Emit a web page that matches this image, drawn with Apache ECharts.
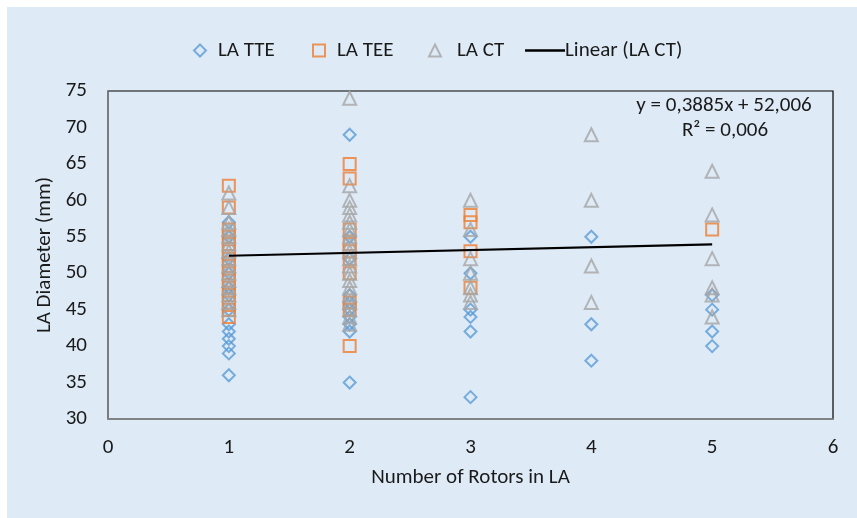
<!DOCTYPE html>
<html>
<head>
<meta charset="utf-8">
<script src="https://cdn.jsdelivr.net/npm/echarts@6/dist/echarts.min.js"></script>
<style>
  html, body { margin: 0; padding: 0; background: #ffffff; }
  #frame { position: absolute; left: 7px; top: 7px; width: 850px; height: 511px; background: #DEEBF7; }
  #chart { position: absolute; left: 0; top: 0; width: 857px; height: 518px; }
</style>
</head>
<body>
<div id="frame"></div>
<div id="chart"></div>
<script>
// ---- data ----
const rotorCounts = [1, 2, 3, 4, 5];
// LA diameters (mm) per rotor count, index i -> rotorCounts[i]
const tteValues = [
  [36, 39, 40, 41, 42, 43, 45, 47, 48, 50, 52, 55, 57],
  [35, 42, 43, 44, 45, 46, 47, 52, 55, 69],
  [33, 42, 44, 45, 50, 55],
  [38, 43, 55],
  [40, 42, 45, 47]
];
const teeValues = [
  [44, 45, 46, 47, 48, 49, 50, 51, 52, 53, 54, 55, 56, 59, 62],
  [40, 45, 46, 50, 52, 53, 54, 56, 63, 65],
  [48, 53, 57, 58],
  [],
  [56]
];
const ctValues = [
  [45, 46, 47, 48, 49, 50, 51, 52, 53, 54, 55, 56, 57, 59, 61],
  [43, 44, 45, 46, 47, 48, 49, 50, 51, 52, 53, 54, 55, 56, 57, 58, 59, 60, 62, 74],
  [46, 47, 48, 50, 52, 56, 60],
  [46, 51, 60, 69],
  [44, 47, 48, 52, 58, 64]
];
const trendSlope = 0.3885;
const trendIntercept = 52.006;
const trendR2 = 0.006;
const trendRange = [1, 5];
const xTicks = [0, 1, 2, 3, 4, 5, 6];
const yTicks = [30, 35, 40, 45, 50, 55, 60, 65, 70, 75];
const seriesNames = ['LA TTE', 'LA TEE', 'LA CT', 'Linear (LA CT)'];

// ---- build ----
function toPairs(groups) {
  const out = [];
  groups.forEach((vals, i) => vals.forEach(v => out.push([rotorCounts[i], v])));
  return out;
}
const trendData = trendRange.map(x => [x, trendSlope * x + trendIntercept]);
const fmt = (v, d) => v.toFixed(d).replace('.', ',');
const eqText = 'y = ' + fmt(trendSlope, 4) + 'x + ' + fmt(trendIntercept, 3);
const r2Text = 'R² = ' + fmt(trendR2, 3);

const FONT = 'Carlito, "Open Sans", sans-serif';
const FS = 21;
const TXT = '#1a1a1a';

function legendItem(name, left, pad, opts) {
  return Object.assign({
    data: [name], left: left, top: 35,
    itemWidth: 12, itemHeight: 12,
    textStyle: { fontSize: FS, color: TXT, fontFamily: FONT, padding: [0, 0, 0, pad] }
  }, opts || {});
}

const chart = echarts.init(document.getElementById('chart'), null, { renderer: 'canvas' });
chart.setOption({
  backgroundColor: 'transparent',
  animation: false,
  textStyle: { fontFamily: FONT },
  grid: {
    left: 108, right: 24, top: 91, bottom: 99,
    show: true, borderColor: '#000', borderWidth: 1.2, backgroundColor: 'transparent'
  },
  legend: [
    legendItem(seriesNames[0], 188, 7),
    legendItem(seriesNames[1], 307, 7),
    legendItem(seriesNames[2], 423, 11),
    legendItem(seriesNames[3], 520, -5, { icon: 'rect', itemWidth: 40, itemHeight: 2.5 })
  ],
  xAxis: {
    type: 'value', min: xTicks[0], max: xTicks[xTicks.length - 1], interval: 1,
    name: 'Number of Rotors in LA', nameLocation: 'middle', nameGap: 48,
    nameTextStyle: { fontSize: FS, color: TXT, fontFamily: FONT },
    axisLine: { show: true, onZero: false, lineStyle: { color: '#868686', width: 1.5 } },
    axisTick: { show: false },
    splitLine: { show: false },
    axisLabel: { fontSize: FS, color: TXT, margin: 18, fontFamily: FONT }
  },
  yAxis: {
    type: 'value', min: yTicks[0], max: yTicks[yTicks.length - 1], interval: 5,
    name: 'LA Diameter (mm)', nameLocation: 'middle', nameGap: 49,
    nameTextStyle: { fontSize: FS, color: TXT, fontFamily: FONT },
    axisLine: { show: true, onZero: false, lineStyle: { color: '#868686', width: 1.5 } },
    axisTick: { show: false },
    splitLine: { show: false },
    axisLabel: { fontSize: FS, color: TXT, margin: 21, fontFamily: FONT }
  },
  series: [
    {
      name: seriesNames[0], type: 'scatter', symbol: 'diamond', symbolSize: 12,
      itemStyle: { color: 'rgba(0,0,0,0)', borderColor: '#5B9BD5', borderWidth: 2 },
      data: toPairs(tteValues), z: 3
    },
    {
      name: seriesNames[1], type: 'scatter', symbol: 'rect', symbolSize: 12,
      itemStyle: { color: 'rgba(0,0,0,0)', borderColor: '#ED7D31', borderWidth: 2 },
      data: toPairs(teeValues), z: 4
    },
    {
      name: seriesNames[2], type: 'scatter', symbol: 'triangle', symbolSize: 13,
      itemStyle: { color: 'rgba(0,0,0,0)', borderColor: '#A5A5A5', borderWidth: 2 },
      data: toPairs(ctValues), z: 5
    },
    {
      name: seriesNames[3], type: 'line', symbol: 'none', showSymbol: false,
      lineStyle: { color: '#000', width: 2.2 }, itemStyle: { color: '#000' },
      data: trendData, z: 6
    }
  ],
  graphic: [
    {
      type: 'text', x: 724, y: 106,
      style: { text: eqText, fontSize: FS, fill: TXT, fontFamily: FONT,
               align: 'center', verticalAlign: 'middle' }
    },
    {
      type: 'text', x: 725, y: 131,
      style: { text: r2Text, fontSize: FS, fill: TXT, fontFamily: FONT,
               align: 'center', verticalAlign: 'middle' }
    }
  ]
});
</script>
</body>
</html>
